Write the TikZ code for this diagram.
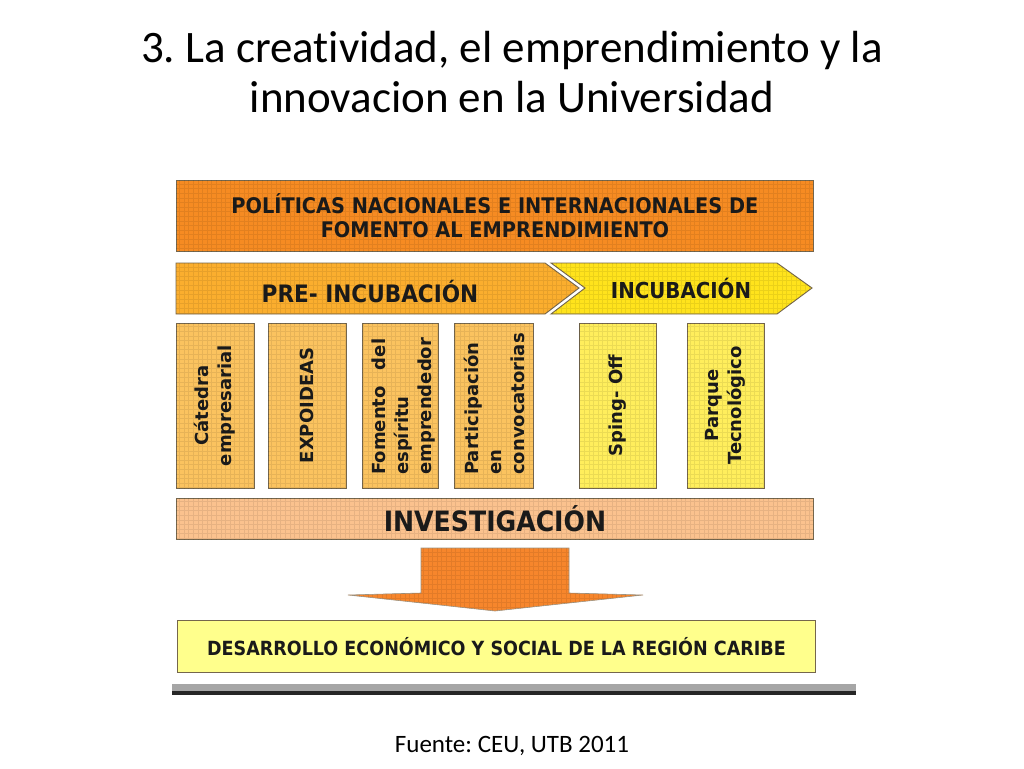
\documentclass[tikz,border=0pt]{standalone}
\usepackage{fontspec}
\setmainfont{Carlito}[Ligatures={NoCommon}]
\newfontfamily\dia{DejaVu Sans}
\newfontfamily\diac{DejaVu Sans Condensed}
\frenchspacing
\usetikzlibrary{calc}
\definecolor{cTop}{HTML}{F68B22}
\definecolor{cPre}{HTML}{FBAE2E}
\definecolor{cInc}{HTML}{FFE31C}
\definecolor{cBoxO}{HTML}{FBC35F}
\definecolor{cBoxY}{HTML}{FFEE5C}
\definecolor{cInv}{HTML}{FBC28E}
\definecolor{cDown}{HTML}{F7862C}
\definecolor{cDes}{HTML}{FFFF8C}
\definecolor{cEdge}{HTML}{75664C}
\definecolor{cTxt}{HTML}{1A1A1A}
\tikzset{
  panel/.style={draw=cEdge, line width=0.9pt},
  bigtxt/.style={font=\diac\bfseries\fontsize{21.5}{24}\selectfont, text=cTxt, align=center},
  boxtxt/.style={font=\dia\bfseries\fontsize{18}{23}\selectfont, text=cTxt, rotate=90},
  gridlines/.style={draw=black, opacity=0.08, line width=0.4pt}
}
\newcommand{\texgrid}[1]{\begin{scope}\clip #1; \draw[gridlines, step=4.6pt] (150,150) grid (860,700);\end{scope}}
\begin{document}
\begin{tikzpicture}[x=1pt,y=-1pt]
\useasboundingbox (0,0) rectangle (1024,768);
\fill[white] (0,0) rectangle (1024,768);

% title
\node[font=\fontsize{45}{50}\selectfont, align=center] (title) at (512,72)
  {3. La creatividad, el emprendimiento y la\\innovacion en la Universidad};

% top bar
\node[panel, fill=cTop, minimum width=637pt, minimum height=71pt, anchor=north west, inner sep=0pt] (pol) at (176,180) {};
\texgrid{(176,180) rectangle (813,251)}
\node[bigtxt] (poltxt) at (pol.center) {POLÍTICAS NACIONALES E INTERNACIONALES DE\\FOMENTO AL EMPRENDIMIENTO};

% chevrons
\draw[panel, fill=cPre] (176,263) -- (545,263) -- (579,288) -- (545,314) -- (176,314) -- cycle;
\texgrid{(176,263) -- (545,263) -- (579,288) -- (545,314) -- (176,314) -- cycle}
\coordinate (preC) at (370,292);
\node[bigtxt, font=\diac\bfseries\fontsize{24}{28}\selectfont] (pre) at (preC) {PRE- INCUBACIÓN};
\draw[panel, fill=cInc] (551,263) -- (777,263) -- (812,288) -- (777,314) -- (551,314) -- (585,288) -- cycle;
\texgrid{(551,263) -- (777,263) -- (812,288) -- (777,314) -- (551,314) -- (585,288) -- cycle}
\coordinate (incC) at (681,288);
\node[bigtxt, font=\diac\bfseries\fontsize{22}{26}\selectfont] (inc) at (incC) {INCUBACIÓN};

% vertical boxes
\foreach \n/\xa/\xb/\col in {b1/176/254/cBoxO, b2/268/346/cBoxO, b3/362/438/cBoxO, b4/454/533/cBoxO, b5/579/656/cBoxY, b6/687/764/cBoxY}{
  \draw[panel, fill=\col] (\xa,323) rectangle (\xb,488);
  \texgrid{(\xa,323) rectangle (\xb,488)}
  \coordinate (\n) at ({(\xa+\xb)/2},405.5);
}
\node[boxtxt, align=center] (t1) at (b1) {Cátedra\\empresarial};
\node[boxtxt] (t2) at (b2) {EXPOIDEAS};
\node[boxtxt, anchor=north west, align=left, inner sep=0pt] (t3) at (372,475) {\parbox{136pt}{Fomento\hfill del\\espíritu\\emprendedor}};
\node[boxtxt, anchor=north west, align=left, inner sep=0pt] (t4) at (464,475) {\parbox{136pt}{Participación\\en\\convocatorias}};
\node[boxtxt] (t5) at (b5) {Sping- Off};
\node[boxtxt, align=center] (t6) at (b6) {Parque\\Tecnológico};

% investigacion
\node[panel, fill=cInv, minimum width=637pt, minimum height=41pt, anchor=north west, inner sep=0pt] (inv) at (176,498) {};
\texgrid{(176,498) rectangle (813,539)}
\node[bigtxt, font=\diac\bfseries\fontsize{28}{30}\selectfont] (invt) at (inv.center) {INVESTIGACIÓN};

% down arrow
\draw[draw=cEdge!70, line width=0.6pt, fill=cDown] (421,548) -- (569,548) -- (569,593) -- (643,595) -- (495,611) -- (348,595) -- (421,593) -- cycle;
\texgrid{(421,548) -- (569,548) -- (569,593) -- (643,595) -- (495,611) -- (348,595) -- (421,593) -- cycle}

% bottom box
\node[panel, fill=cDes, minimum width=638pt, minimum height=52pt, anchor=north west, inner sep=0pt] (des) at (177,620) {};
\node[bigtxt, font=\diac\bfseries\fontsize{19.5}{22}\selectfont] (dest) at (des.center) {DESARROLLO ECONÓMICO Y SOCIAL DE LA REGIÓN CARIBE};

% bottom rule
\fill[gray!70] (172,684) rectangle (856,691);
\fill[black!85] (172,691) rectangle (856,695);

% source
\node[font=\fontsize{25}{28}\selectfont] (src) at (512,746) {Fuente: CEU, UTB 2011};
\end{tikzpicture}
\end{document}
